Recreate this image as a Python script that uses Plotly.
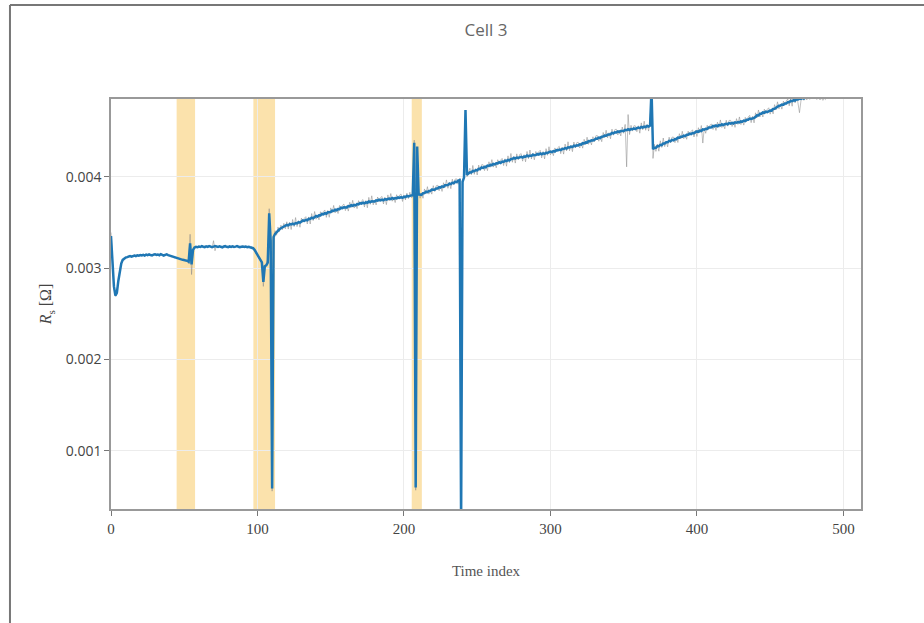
import plotly.graph_objects as go

# Series resistance of cell 3, in micro-ohm, one value per time index.
rs_smooth_uohm = [
    3350, 3080, 2800, 2700, 2730, 2860, 2980, 3050, 3090, 3105,
    3115, 3120, 3128, 3132, 3126, 3135, 3138, 3131, 3140, 3136,
    3142, 3139, 3145, 3137, 3148, 3141, 3150, 3143, 3138, 3147,
    3152, 3144, 3149, 3140, 3153, 3146, 3138, 3145, 3150, 3142,
    3136, 3130, 3124, 3118, 3112, 3108, 3104, 3100, 3096, 3092,
    3090, 3085, 3080, 3070, 3270, 3040, 3200, 3225, 3232, 3228,
    3236, 3231, 3240, 3234, 3229, 3238, 3233, 3241, 3236, 3230,
    3235, 3242, 3237, 3231, 3239, 3234, 3228, 3236, 3240, 3233,
    3229, 3237, 3232, 3238, 3231, 3235, 3240, 3234, 3228, 3233,
    3237, 3231, 3236, 3230, 3234, 3228, 3225, 3218, 3200, 3172,
    3140, 3112, 3085, 3062, 2850, 3020, 3030, 3060, 3600, 3300,
    590, 3340, 3375, 3395, 3410, 3425, 3436, 3445, 3455, 3462,
    3472, 3467, 3482, 3477, 3487, 3479, 3493, 3489, 3503, 3497,
    3507, 3521, 3516, 3528, 3523, 3540, 3538, 3552, 3545, 3559,
    3570, 3564, 3578, 3577, 3593, 3589, 3601, 3595, 3611, 3611,
    3614, 3629, 3626, 3639, 3633, 3647, 3645, 3661, 3656, 3666,
    3669, 3664, 3679, 3676, 3688, 3682, 3692, 3686, 3701, 3698,
    3711, 3705, 3715, 3708, 3719, 3715, 3729, 3723, 3731, 3727,
    3729, 3741, 3738, 3748, 3741, 3749, 3742, 3755, 3749, 3756,
    3761, 3756, 3767, 3758, 3767, 3763, 3774, 3769, 3776, 3769,
    3780, 3777, 3789, 3784, 3794, 3795, 3800, 4370, 600, 4330,
    3807, 3805, 3802, 3819, 3821, 3836, 3831, 3844, 3843, 3859,
    3862, 3857, 3871, 3871, 3886, 3880, 3894, 3889, 3906, 3905,
    3908, 3924, 3919, 3933, 3930, 3945, 3941, 3957, 3962, 200,
    3945, 3990, 4730, 4020, 4035, 4048, 4046, 4063, 4061, 4073,
    4069, 4087, 4085, 4101, 4096, 4107, 4105, 4121, 4118, 4129,
    4127, 4140, 4134, 4147, 4146, 4159, 4151, 4165, 4162, 4176,
    4170, 4183, 4179, 4194, 4193, 4206, 4199, 4210, 4205, 4213,
    4217, 4210, 4221, 4218, 4231, 4222, 4232, 4228, 4241, 4235,
    4236, 4248, 4242, 4254, 4246, 4255, 4250, 4262, 4259, 4268,
    4274, 4269, 4280, 4275, 4291, 4287, 4297, 4292, 4303, 4302,
    4312, 4307, 4322, 4319, 4329, 4324, 4339, 4334, 4343, 4341,
    4354, 4351, 4367, 4364, 4375, 4372, 4389, 4388, 4398, 4397,
    4402, 4418, 4415, 4428, 4423, 4438, 4439, 4451, 4448, 4460,
    4466, 4465, 4480, 4474, 4486, 4484, 4496, 4489, 4501, 4498,
    4500, 4512, 4508, 4519, 4511, 4522, 4519, 4528, 4521, 4532,
    4537, 4531, 4544, 4538, 4547, 4543, 4555, 4549, 4560, 4950,
    4300, 4318, 4317, 4335, 4334, 4348, 4345, 4363, 4364, 4376,
    4376, 4392, 4389, 4403, 4398, 4412, 4411, 4429, 4426, 4438,
    4437, 4450, 4444, 4459, 4458, 4471, 4466, 4478, 4475, 4487,
    4495, 4491, 4504, 4500, 4518, 4514, 4525, 4523, 4538, 4537,
    4541, 4556, 4551, 4561, 4552, 4564, 4561, 4573, 4564, 4574,
    4578, 4573, 4586, 4581, 4589, 4582, 4595, 4590, 4597, 4594,
    4605, 4602, 4614, 4609, 4623, 4623, 4636, 4631, 4642, 4644,
    4654, 4671, 4670, 4689, 4689, 4703, 4699, 4712, 4706, 4719,
    4724, 4723, 4742, 4743, 4756, 4759, 4777, 4778, 4789, 4787,
    4801, 4800, 4815, 4815, 4830, 4826, 4837, 4832, 4847, 4844,
    4854, 4850, 4861, 4855, 4865, 4863, 4872, 4866, 4877, 4875,
    4884, 4880,
]

rs_raw_uohm = [
    3390, 3060, 2780, 2690, 2745, 2850, 2990, 3040, 3098, 3100,
    3122, 3112, 3135, 3125, 3133, 3128, 3146, 3124, 3148, 3130,
    3150, 3132, 3153, 3129, 3156, 3134, 3158, 3137, 3145, 3140,
    3160, 3137, 3157, 3132, 3161, 3139, 3146, 3138, 3158, 3135,
    3143, 3122, 3131, 3110, 3120, 3100, 3112, 3093, 3104, 3085,
    3098, 3078, 3090, 3050, 3370, 2930, 3210, 3218, 3240, 3221,
    3244, 3224, 3248, 3227, 3237, 3230, 3241, 3234, 3244, 3222,
    3300, 3190, 3245, 3224, 3247, 3227, 3236, 3229, 3248, 3226,
    3237, 3230, 3240, 3231, 3239, 3228, 3248, 3227, 3236, 3226,
    3245, 3224, 3244, 3223, 3242, 3221, 3233, 3210, 3208, 3165,
    3148, 3105, 3093, 3055, 2800, 3010, 3045, 3100, 3650, 3250,
    560, 3300, 3410, 3360, 3450, 3400, 3470, 3420, 3490, 3430,
    3507, 3427, 3502, 3422, 3532, 3454, 3553, 3454, 3518, 3447,
    3547, 3501, 3546, 3563, 3483, 3560, 3483, 3597, 3520, 3619,
    3535, 3579, 3528, 3617, 3573, 3619, 3636, 3555, 3631, 3556,
    3659, 3604, 3686, 3604, 3648, 3597, 3685, 3641, 3686, 3701,
    3629, 3684, 3624, 3721, 3663, 3742, 3657, 3701, 3651, 3738,
    3691, 3735, 3750, 3668, 3739, 3660, 3774, 3698, 3791, 3692,
    3744, 3691, 3778, 3728, 3771, 3784, 3702, 3775, 3694, 3801,
    3736, 3816, 3732, 3773, 3717, 3803, 3754, 3799, 3811, 3729,
    3800, 3745, 3820, 3760, 3830, 3770, 3780, 4400, 570, 4300,
    3842, 3765, 3822, 3764, 3866, 3811, 3891, 3809, 3858, 3809,
    3902, 3837, 3901, 3906, 3846, 3900, 3839, 3934, 3881, 3965,
    3873, 3939, 3869, 3973, 3910, 3975, 3976, 3917, 3982, 150,
    3930, 4010, 4700, 4000, 4060, 4093, 4021, 4123, 4026, 4088,
    4019, 4127, 4065, 4131, 4131, 4067, 4125, 4066, 4163, 4104,
    4187, 4105, 4149, 4097, 4186, 4139, 4181, 4200, 4122, 4196,
    4115, 4228, 4154, 4254, 4158, 4221, 4149, 4250, 4185, 4243,
    4252, 4170, 4241, 4163, 4276, 4197, 4292, 4193, 4256, 4185,
    4276, 4228, 4272, 4289, 4206, 4275, 4195, 4307, 4234, 4328,
    4239, 4284, 4230, 4315, 4271, 4317, 4332, 4252, 4323, 4247,
    4357, 4282, 4382, 4284, 4344, 4274, 4379, 4314, 4373, 4376,
    4314, 4371, 4312, 4409, 4350, 4432, 4354, 4403, 4348, 4437,
    4382, 4448, 4450, 4388, 4443, 4383, 4484, 4426, 4508, 4425,
    4481, 4415, 4520, 4454, 4516, 4519, 4456, 4509, 4446, 4543,
    4475, 4572, 4108, 4680, 4461, 4562, 4499, 4558, 4556, 4492,
    4557, 4476, 4589, 4513, 4607, 4508, 4570, 4499, 4600, 4950,
    4200, 4353, 4277, 4355, 4279, 4393, 4320, 4423, 4329, 4391,
    4326, 4432, 4369, 4433, 4433, 4372, 4431, 4374, 4471, 4413,
    4497, 4415, 4459, 4409, 4498, 4451, 4496, 4513, 4435, 4507,
    4440, 4536, 4479, 4560, 4368, 4529, 4475, 4563, 4518, 4567,
    4576, 4516, 4571, 4506, 4597, 4539, 4621, 4538, 4579, 4524,
    4618, 4553, 4616, 4616, 4549, 4602, 4540, 4635, 4572, 4654,
    4570, 4617, 4564, 4649, 4603, 4653, 4671, 4591, 4662, 4589,
    4699, 4646, 4730, 4654, 4704, 4653, 4739, 4692, 4736, 4754,
    4684, 4743, 4687, 4788, 4731, 4819, 4742, 4793, 4739, 4827,
    4781, 4830, 4850, 4775, 4850, 4771, 4882, 4807, 4907, 4809,
    4700, 4830, 4901, 4835, 4900, 4840, 4910, 4846, 4905, 4855,
    4915, 4860, 4845, 4870, 4840, 4860, 4835, 4855, 4840,
]

# Highlighted intervals (start, end) in time index
event_spans = [(44.8, 57.4), (97.2, 112.0), (205.3, 212.2)]

x_ticks = [0, 100, 200, 300, 400, 500]
y_ticks = [0.001, 0.002, 0.003, 0.004]

raw_ohm = [v * 1e-6 for v in rs_raw_uohm]
smooth_ohm = [v * 1e-6 for v in rs_smooth_uohm]

fig = go.Figure()
fig.add_trace(go.Scatter(
    x=list(range(len(raw_ohm))), y=raw_ohm, mode="lines",
    line=dict(color="rgba(140,140,140,0.6)", width=0.9),
    showlegend=False, hoverinfo="skip",
))
fig.add_trace(go.Scatter(
    x=list(range(len(smooth_ohm))), y=smooth_ohm, mode="lines",
    line=dict(color="#1f77b4", width=2.5),
    showlegend=False,
))

shapes = []
for x0, x1 in event_spans:
    shapes.append(dict(type="rect", xref="x", yref="paper", x0=x0, x1=x1, y0=0, y1=1,
                       fillcolor="rgb(251,226,172)", line=dict(width=0), layer="below"))

# Outer frame: left and top rules
fx = -0.1347
fy = 1.2293
shapes.append(dict(type="line", xref="paper", yref="paper", x0=fx, x1=fx, y0=-0.3, y1=fy,
                   line=dict(color="#777", width=2), layer="above"))
shapes.append(dict(type="line", xref="paper", yref="paper", x0=fx, x1=1.1, y0=fy, y1=fy,
                   line=dict(color="#777", width=2), layer="above"))

axis_common = dict(
    showline=True, mirror=True, linecolor="#999", linewidth=1.5,
    ticks="outside", ticklen=5, tickcolor="#777",
    showgrid=True, gridcolor="#ececec", gridwidth=1, zeroline=False,
)

fig.update_layout(
    width=924, height=623,
    margin=dict(l=111, r=63, t=99, b=114),
    paper_bgcolor="white", plot_bgcolor="rgba(0,0,0,0)",
    shapes=shapes,
    title=dict(text="Cell 3", x=0.5, xref="paper", y=1 - 30 / 623, yanchor="middle",
               font=dict(family="Open Sans", size=17, color="#666")),
    xaxis=dict(
        range=[0, 512], tickvals=x_ticks,
        tickfont=dict(family="Liberation Serif", size=15, color="#444"),
        title=dict(text="Time index", standoff=30,
                   font=dict(family="Liberation Serif", size=15, color="#555")),
        **axis_common,
    ),
    yaxis=dict(
        range=[0.000365, 0.00485], tickvals=y_ticks, tickformat=".3f",
        tickfont=dict(family="Open Sans", size=14, color="#444"),
        title=dict(text="<i>R</i><sub>s</sub> [Ω]", standoff=10,
                   font=dict(family="Liberation Serif", size=16, color="#444")),
        **axis_common,
    ),
)

fig.write_html("out.html")
